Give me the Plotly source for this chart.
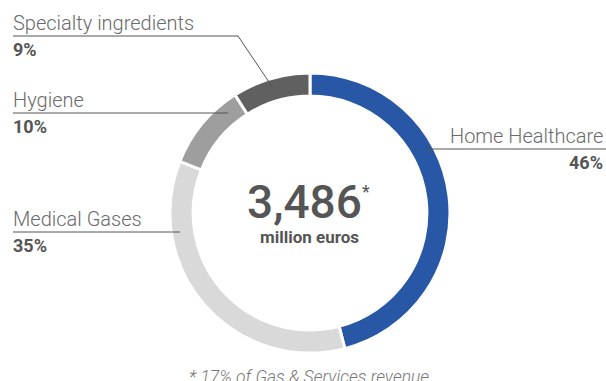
import plotly.graph_objects as go

# Revenue split by activity
segments = ["Home Healthcare", "Medical Gases", "Hygiene", "Specialty ingredients"]
shares = [46, 35, 10, 9]
colors = ["#2757A5", "#D9D9D9", "#9E9E9E", "#606060"]
total_label = "3,486"
unit_label = "million euros"
footnote = "* 17% of Gas & Services revenue"

W, H = 606, 381


def px(x):
    return x / W


def py(y):
    return 1 - y / H


fig = go.Figure(
    go.Pie(
        labels=segments,
        values=shares,
        sort=False,
        direction="clockwise",
        rotation=0,
        hole=0.835,
        marker=dict(colors=colors, line=dict(color="white", width=3)),
        textinfo="none",
        hoverinfo="skip",
        showlegend=False,
        domain=dict(x=[px(170), px(450)], y=[py(353), py(73)]),
    )
)

label_font = dict(family="Roboto", size=20, color="#6a6a6a", weight=300)
pct_font = dict(family="Roboto", size=18, color="#555555", weight=700)
line_style = dict(color="#555555", width=1)

# Left-side labels: (segment index, text y, underline y, underline end x)
left_labels = [
    (3, 23, 36, 238),
    (2, 100, 113, 228),
    (1, 219, 232, 180),
]

annotations = []
shapes = []
for idx, ty, ly, lx in left_labels:
    annotations.append(dict(
        x=px(11), y=py(ty), xref="paper", yref="paper",
        xanchor="left", yanchor="middle", showarrow=False,
        text=segments[idx], font=label_font,
    ))
    annotations.append(dict(
        x=px(11), y=py(ly + 13), xref="paper", yref="paper",
        xanchor="left", yanchor="middle", showarrow=False,
        text=f"{shares[idx]}%", font=pct_font,
    ))
    shapes.append(dict(type="line", xref="paper", yref="paper",
                       x0=px(13), y0=py(ly), x1=px(lx), y1=py(ly), line=line_style))

# Leader for the small slice at the top
shapes.append(dict(type="line", xref="paper", yref="paper",
                   x0=px(238), y0=py(36), x1=px(273), y1=py(88), line=line_style))

# Right-side label
annotations.append(dict(
    x=px(605), y=py(136), xref="paper", yref="paper",
    xanchor="right", yanchor="middle", showarrow=False,
    text=segments[0], font=label_font,
))
annotations.append(dict(
    x=px(605), y=py(162), xref="paper", yref="paper",
    xanchor="right", yanchor="middle", showarrow=False,
    text=f"{shares[0]}%", font=pct_font,
))
shapes.append(dict(type="line", xref="paper", yref="paper",
                   x0=px(425), y0=py(149), x1=px(606), y1=py(149), line=line_style))

# Centre total
annotations.append(dict(
    x=px(304), y=py(202), xref="paper", yref="paper",
    xanchor="center", yanchor="middle", showarrow=False,
    text=total_label, font=dict(family="Roboto", size=46, color="#555555", weight=500),
))
annotations.append(dict(
    x=px(366), y=py(191), xref="paper", yref="paper",
    xanchor="center", yanchor="middle", showarrow=False,
    text="*", font=dict(family="Roboto", size=18, color="#555555"),
))
annotations.append(dict(
    x=px(309), y=py(237), xref="paper", yref="paper",
    xanchor="center", yanchor="middle", showarrow=False,
    text=unit_label, font=dict(family="Roboto", size=17, color="#555555", weight=700),
))

# Footnote (runs off the bottom edge)
annotations.append(dict(
    x=px(309), y=py(377), xref="paper", yref="paper",
    xanchor="center", yanchor="middle", showarrow=False,
    text=f"<i>{footnote}</i>", font=dict(family="Roboto", size=17.5, color="#777777", weight=300),
))

fig.update_layout(
    width=W, height=H,
    margin=dict(l=0, r=0, t=0, b=0),
    paper_bgcolor="white", plot_bgcolor="white",
    annotations=annotations, shapes=shapes,
)

fig.write_html("out.html")
